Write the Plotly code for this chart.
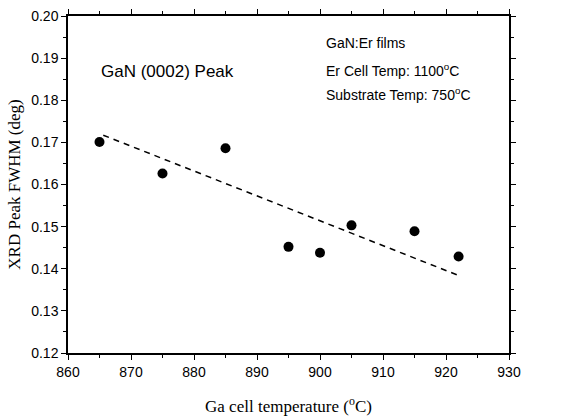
import plotly.graph_objects as go

ga_temp = [865, 875, 885, 895, 900, 905, 915, 922]
fwhm = [0.1701, 0.1626, 0.1686, 0.1452, 0.1438, 0.1503, 0.1489, 0.1429]
fit_x = [865.6, 922]
fit_y = [0.1717, 0.1384]

fig = go.Figure()
fig.add_trace(go.Scatter(x=fit_x, y=fit_y, mode="lines",
                         line=dict(color="black", width=1.5, dash="6px,5px"),
                         showlegend=False))
fig.add_trace(go.Scatter(x=ga_temp, y=fwhm, mode="markers",
                         marker=dict(color="black", size=10), showlegend=False))

axis_common = dict(showline=True, linecolor="black", linewidth=1.5, mirror="ticks",
                   ticks="outside", ticklen=5, tickwidth=1, tickcolor="black",
                   showgrid=False, zeroline=False, automargin=False,
                   ticklabeloverflow="allow",
                   tickfont=dict(family="Liberation Sans, Arial", size=14, color="black"))

fig.update_xaxes(range=[860, 930], dtick=10, tick0=860,
                 minor=dict(dtick=5, ticks="outside", ticklen=3, tickcolor="black"),
                 title=dict(text="Ga cell temperature (<sup>o</sup>C)",
                            font=dict(family="Liberation Serif, Times New Roman", size=17, color="black"),
                            standoff=38),
                 **axis_common)
fig.update_yaxes(range=[0.12, 0.20], dtick=0.01, tick0=0.12, tickformat=".2f",
                 minor=dict(dtick=0.005, ticks="outside", ticklen=3, tickcolor="black"),
                 title=dict(text="XRD Peak FWHM (deg)",
                            font=dict(family="Liberation Serif, Times New Roman", size=17, color="black"),
                            standoff=6),
                 **axis_common)

sans = "Liberation Sans, Arial"
fig.add_annotation(x=864.9, y=0.1869, text="GaN (0002) Peak", showarrow=False,
                   xanchor="left", yanchor="middle", font=dict(family=sans, size=17, color="black"))
fig.add_annotation(x=900.6, y=0.1935, text="GaN:Er films", showarrow=False,
                   xanchor="left", yanchor="middle", font=dict(family=sans, size=14, color="black"))
fig.add_annotation(x=900.6, y=0.1871, text="Er Cell Temp: 1100<sup>o</sup>C", showarrow=False,
                   xanchor="left", yanchor="middle", font=dict(family=sans, size=14, color="black"))
fig.add_annotation(x=900.6, y=0.1814, text="Substrate Temp: 750<sup>o</sup>C", showarrow=False,
                   xanchor="left", yanchor="middle", font=dict(family=sans, size=14, color="black"))

fig.update_layout(width=571, height=416, margin=dict(l=68, r=62, t=16, b=63),
                  paper_bgcolor="white", plot_bgcolor="white")
fig.write_html("out.html", config={"displayModeBar": False},
               post_script="document.body.style.margin='0';")
